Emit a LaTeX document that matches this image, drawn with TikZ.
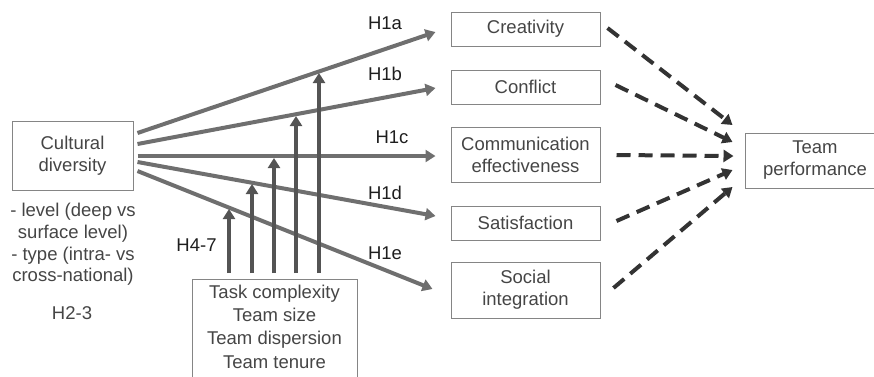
\documentclass[tikz,border=0pt]{standalone}
\usepackage{fontspec}
\setmainfont{Liberation Sans}
\usetikzlibrary{arrows.meta}
\definecolor{boxline}{HTML}{858585}
\definecolor{boxtext}{HTML}{454545}
\definecolor{pathgray}{HTML}{6F6F6F}
\definecolor{modgray}{HTML}{545454}
\definecolor{perfdash}{HTML}{333333}
\definecolor{labeltext}{HTML}{1E1E1E}
\tikzset{
  varbox/.style={draw=boxline, line width=1pt, text=boxtext, align=center,
    font=\fontsize{18.5}{22}\selectfont, inner sep=0pt},
  plaintext/.style={text=boxtext, align=center, font=\fontsize{18.5}{21.7}\selectfont, inner sep=0pt},
  hyplabel/.style={text=labeltext, font=\fontsize{18.5}{22}\selectfont, inner sep=0pt},
  mainpath/.style={draw=pathgray, line width=4pt, -{Triangle[length=10pt,width=12pt]}},
  modpath/.style={draw=modgray, line width=4pt, -{Triangle[length=10pt,width=12pt]}},
  perfpath/.style={draw=perfdash, line width=4pt, dash pattern=on 14pt off 8pt,
    -{Triangle[length=10pt,width=12pt]}},
}
\begin{document}
\begin{tikzpicture}[x=1pt, y=-1pt]
\useasboundingbox (0,0) rectangle (874,376);

% predictor
\node[varbox, minimum width=121pt, minimum height=69pt] (cd) at (72.5,155.5) {Cultural\\diversity};
\node[plaintext] (dims) at (73,244.5) {- level (deep vs\\surface level)\\- type (intra- vs\\cross-national)};
\node[hyplabel, text=boxtext] (h23) at (72,313) {H2-3};

% team processes / outcomes
\node[varbox, minimum width=149pt, minimum height=34pt] (creat) at (525.5,29) {Creativity};
\node[varbox, minimum width=149pt, minimum height=34pt] (conf) at (525.5,87) {Conflict};
\node[varbox, minimum width=149pt, minimum height=55pt] (comm) at (525.5,154.5) {Communication\\effectiveness};
\node[varbox, minimum width=149pt, minimum height=34pt] (sat) at (525.5,223) {Satisfaction};
\node[varbox, minimum width=149pt, minimum height=56pt] (soc) at (525.5,290) {Social\\integration};

% outcome
\node[varbox, minimum width=140pt, minimum height=55pt] (tp) at (815,160.5) {Team\\performance};

% moderators
\node[varbox, anchor=north, minimum width=165pt, inner ysep=5.5pt,
  font=\fontsize{18.5}{23.2}\selectfont] (mod) at (274.5,279)
  {Task complexity\\Team size\\Team dispersion\\Team tenure\rule[-40pt]{0pt}{40pt}};

% direct effects
\draw[mainpath] ([xshift=4pt,yshift=22.5pt]cd.east) -- ([xshift=-15pt,yshift=-3pt]creat.west);
\draw[mainpath] ([xshift=4pt,yshift=11.5pt]cd.east) -- ([xshift=-15pt,yshift=-1pt]conf.west);
\draw[mainpath] ([xshift=4pt,yshift=-0.5pt]cd.east) -- ([xshift=-15pt,yshift=-1.5pt]comm.west);
\draw[mainpath] ([xshift=4pt,yshift=-6.5pt]cd.east) -- ([xshift=-15pt,yshift=7pt]sat.west);
\draw[mainpath] ([xshift=4pt,yshift=-15.5pt]cd.east) -- ([xshift=-18pt,yshift=1pt]soc.west);

\node[hyplabel] (h1a) at (385,23) {H1a};
\node[hyplabel] (h1b) at (385,74) {H1b};
\node[hyplabel] (h1c) at (392,137) {H1c};
\node[hyplabel] (h1d) at (385,193) {H1d};
\node[hyplabel] (h1e) at (385,253) {H1e};
\node[hyplabel] (h47) at (196.5,245) {H4-7};

% moderating effects onto the direct paths
\coordinate (m1) at (229,209);
\coordinate (m2) at (252,184);
\coordinate (m3) at (274,158);
\coordinate (m4) at (296,116);
\coordinate (m5) at (319,73);
\draw[modpath] ([xshift=-45.5pt,yshift=6pt]mod.north) -- (m1);
\draw[modpath] ([xshift=-22.5pt,yshift=6pt]mod.north) -- (m2);
\draw[modpath] ([xshift=-0.5pt,yshift=6pt]mod.north) -- (m3);
\draw[modpath] ([xshift=21.5pt,yshift=6pt]mod.north) -- (m4);
\draw[modpath] ([xshift=44.5pt,yshift=6pt]mod.north) -- (m5);

% effects on team performance
\draw[perfpath] ([xshift=7pt,yshift=1pt]creat.east) -- ([xshift=-12pt,yshift=35.5pt]tp.west);
\draw[perfpath] ([xshift=15pt,yshift=2pt]conf.east) -- ([xshift=-12pt,yshift=18.5pt]tp.west);
\draw[perfpath] ([xshift=16pt,yshift=-0.5pt]comm.east) -- ([xshift=-11pt,yshift=4.5pt]tp.west);
\draw[perfpath] ([xshift=16pt,yshift=2pt]sat.east) -- ([xshift=-12pt,yshift=-9.5pt]tp.west);
\draw[perfpath] ([xshift=13pt,yshift=2pt]soc.east) -- ([xshift=-12pt,yshift=-26.5pt]tp.west);
\end{tikzpicture}
\end{document}
